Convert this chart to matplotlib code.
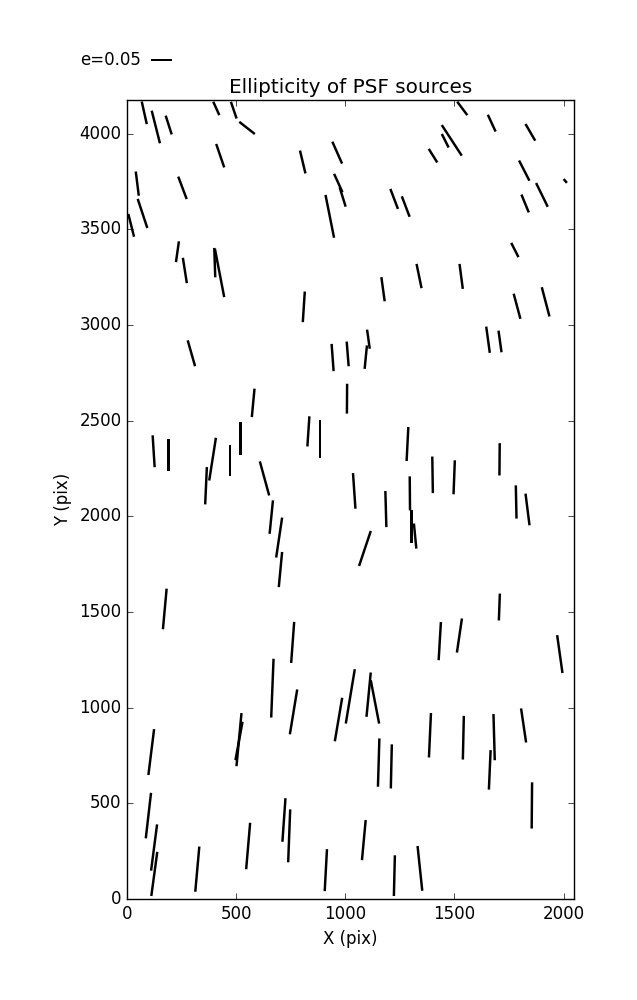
import numpy as np
import matplotlib
matplotlib.use("Agg")
import matplotlib.pyplot as plt

plt.style.use("classic")

# source positions (pix), ellipticity and orientation (deg, ccw from +x)
x_pix = [79, 132, 191, 409, 489, 550, 427, 805, 963, 47, 71, 19, 254, 968, 988, 929, 231, 265, 402, 424, 810,
         1536, 1671, 1848, 1488, 1458, 1402, 1820, 2008, 1901, 1824, 1224, 1277, 1777, 1173, 1338, 1531, 1787, 1918,
         295, 942, 1011, 578, 1008, 831, 884, 122, 191, 520, 473, 392, 362, 630, 661,
         1106, 1094, 1654, 1709, 1285, 1707, 1400, 1499, 1041, 1186, 1296, 1303, 1320, 1783, 1835, 1090,
         697, 703, 173, 759, 666, 763, 969, 1023, 1107, 1136,
         1706, 1433, 1523, 1983, 1817,
         111, 513, 513, 98, 124, 125, 322, 555, 719, 743, 911,
         1388, 1541, 1682, 1153, 1211, 1662, 1855, 1085, 1225, 1342]
y_pix = [4109, 4035, 4045, 4132, 4123, 4030, 3885, 3852, 3901, 3739, 3583, 3521, 3717, 3742, 3669, 3568, 3383, 3285, 3326, 3272, 3095,
         4132, 4055, 4007, 3965, 3963, 3885, 3807, 3753, 3680, 3635, 3659, 3619, 3392, 3187, 3256, 3254, 3098, 3121,
         2852, 2830, 2849, 2593, 2615, 2444, 2405, 2340, 2320, 2407, 2290, 2299, 2160, 2198, 1996,
         2926, 2832, 2923, 2914, 2378, 2298, 2217, 2204, 2133, 2038, 2120, 1947, 1897, 2075, 2036, 1832,
         1889, 1722, 1516, 1341, 1102, 978, 938, 1059, 1068, 1030,
         1526, 1348, 1377, 1280, 907,
         768, 833, 826, 436, 269, 131, 156, 277, 413, 330, 151,
         856, 843, 846, 713, 693, 675, 489, 308, 122, 160]
ellip = [0.055, 0.080, 0.047, 0.035, 0.042, 0.047, 0.059, 0.056, 0.057, 0.058, 0.073, 0.056, 0.057, 0.048, 0.048, 0.104, 0.050, 0.061, 0.070, 0.117, 0.073,
         0.040, 0.044, 0.046, 0.087, 0.036, 0.038, 0.054, 0.012, 0.063, 0.046, 0.051, 0.052, 0.038, 0.058, 0.059, 0.060, 0.062, 0.072,
         0.064, 0.065, 0.059, 0.068, 0.071, 0.072, 0.092, 0.076, 0.078, 0.078, 0.074, 0.103, 0.089, 0.084, 0.080,
         0.046, 0.056, 0.063, 0.052, 0.081, 0.077, 0.087, 0.081, 0.085, 0.086, 0.081, 0.077, 0.060, 0.079, 0.076, 0.088,
         0.096, 0.084, 0.097, 0.098, 0.140, 0.108, 0.105, 0.131, 0.106, 0.105,
         0.064, 0.091, 0.082, 0.091, 0.082,
         0.110, 0.127, 0.093, 0.109, 0.111, 0.106, 0.108, 0.111, 0.104, 0.126, 0.100,
         0.106, 0.104, 0.110, 0.115, 0.105, 0.094, 0.110, 0.096, 0.097, 0.107]
angle = [102.6, 104.2, 107.8, 114.3, 108.8, 141.9, 108.9, 103.4, 113.9, 97.1, 108.3, 104.1, 110.6, 114.5, 107.3, 101.3, 81.9, 98.9, 91.9, 100.9, 86.3,
         126.9, 114.8, 120.2, 123.1, 116.6, 122.1, 117.2, 130.4, 116.1, 112.4, 110.8, 110.8, 116.9, 97.8, 101.6, 97.5, 105.0, 104.7,
         105.9, 94.2, 94.6, 84.6, 89.6, 86.2, 90.0, 93.6, 90.0, 90.0, 90.0, 81.1, 87.4, 105.3, 84.3,
         98.0, 84.4, 97.8, 97.9, 87.1, 89.5, 90.9, 87.8, 93.9, 91.6, 90.5, 90.0, 95.5, 91.2, 97.2, 71.5,
         81.5, 84.6, 84.8, 85.8, 87.7, 80.7, 80.4, 80.6, 84.5, 100.9,
         87.9, 86.6, 81.6, 98.0, 98.4,
         82.9, 84.6, 79.6, 83.4, 82.6, 82.3, 84.9, 85.1, 86.0, 87.8, 86.9,
         87.4, 88.7, 91.6, 88.3, 88.7, 87.5, 89.5, 84.7, 88.6, 96.0]

key_e = 0.05

x_pix = np.array(x_pix)
y_pix = np.array(y_pix)
ellip = np.array(ellip)
theta = np.radians(angle)
u = ellip * np.cos(theta)
v = ellip * np.sin(theta)

fig = plt.figure(figsize=(6.37, 10), dpi=100, facecolor="white")
ax = fig.add_axes([0.1994, 0.101, 0.7017, 0.799])

q = ax.quiver(x_pix, y_pix, u, v, angles="uv", pivot="middle",
              scale=0.238, scale_units="inches", width=0.0055,
              headwidth=0, headlength=0, headaxislength=0, color="k")
ax.quiverkey(q, 0.2363, 0.94, key_e, "e=%.2f" % key_e, labelpos="W",
             coordinates="figure", fontproperties={"size": 12})

ax.set_xlim(0, 2048)
ax.set_ylim(0, 4176)
ax.set_xticks([0, 500, 1000, 1500, 2000])
ax.set_yticks([0, 500, 1000, 1500, 2000, 2500, 3000, 3500, 4000])
ax.tick_params(labelsize=12)
ax.set_xlabel("X (pix)", fontsize=12)
ax.set_ylabel("Y (pix)", fontsize=12)
ax.set_title("Ellipticity of PSF sources", fontsize=14.4)

fig.savefig("out.png", dpi=100, facecolor="white")
